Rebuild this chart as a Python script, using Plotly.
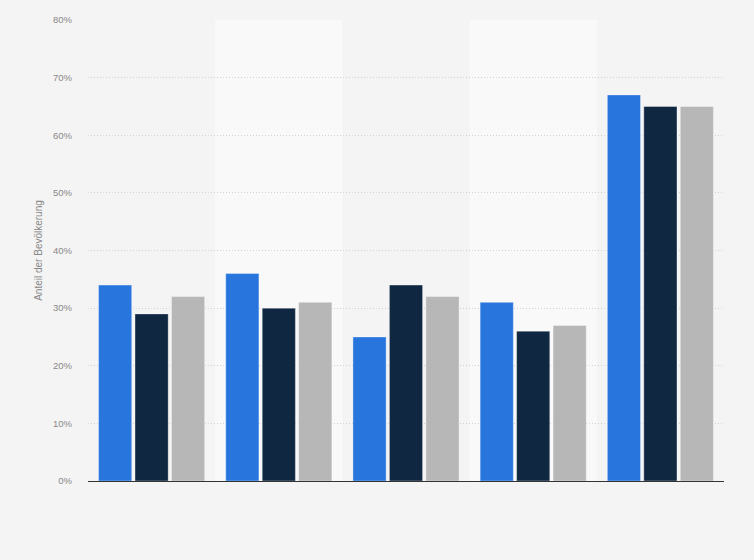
import plotly.graph_objects as go

categories = ["A", "B", "C", "D", "E"]
series_a = [34, 36, 25, 31, 67]
series_b = [29, 30, 34, 26, 65]
series_c = [32, 31, 32, 27, 65]
y_ticks = [0, 10, 20, 30, 40, 50, 60, 70, 80]
y_labels = [f"{v}%" for v in y_ticks]

colors = ["#2876dd", "#0f2741", "#b7b7b7"]

fig = go.Figure()
for vals, col in zip([series_a, series_b, series_c], colors):
    fig.add_trace(go.Bar(x=categories, y=vals, marker_color=col,
                         marker_line_color="rgba(255,255,255,0.6)",
                         marker_line_width=0.6, hoverinfo="y"))

# lighter background bands on every other category
for i in [1, 3]:
    fig.add_shape(type="rect", xref="x", yref="paper", x0=i - 0.5, x1=i + 0.5,
                  y0=0, y1=1, fillcolor="#f9f9f9", line_width=0, layer="below")

fig.update_layout(
    width=754, height=560,
    paper_bgcolor="#f4f4f4", plot_bgcolor="#f4f4f4",
    margin=dict(l=88, r=30, t=20, b=79),
    barmode="group", bargap=0.14, bargroupgap=0.09,
    showlegend=False,
    font=dict(family="Liberation Sans, Arial, sans-serif", size=9.5, color="#888888"),
)
fig.update_xaxes(showticklabels=False, showgrid=False, showline=True,
                 linecolor="#333333", linewidth=1, ticks="")
fig.update_yaxes(range=[0, 80], tickvals=y_ticks, ticktext=y_labels,
                 showgrid=True, gridcolor="#d2d2d2", griddash="1px,2px",
                 zeroline=False, ticklabelstandoff=15,
                 title=dict(text="Anteil der Bevölkerung", standoff=8,
                            font=dict(size=10, color="#888888")))

fig.write_html("out.html", config={"displayModeBar": False},
               post_script="document.body.style.margin='0';")
